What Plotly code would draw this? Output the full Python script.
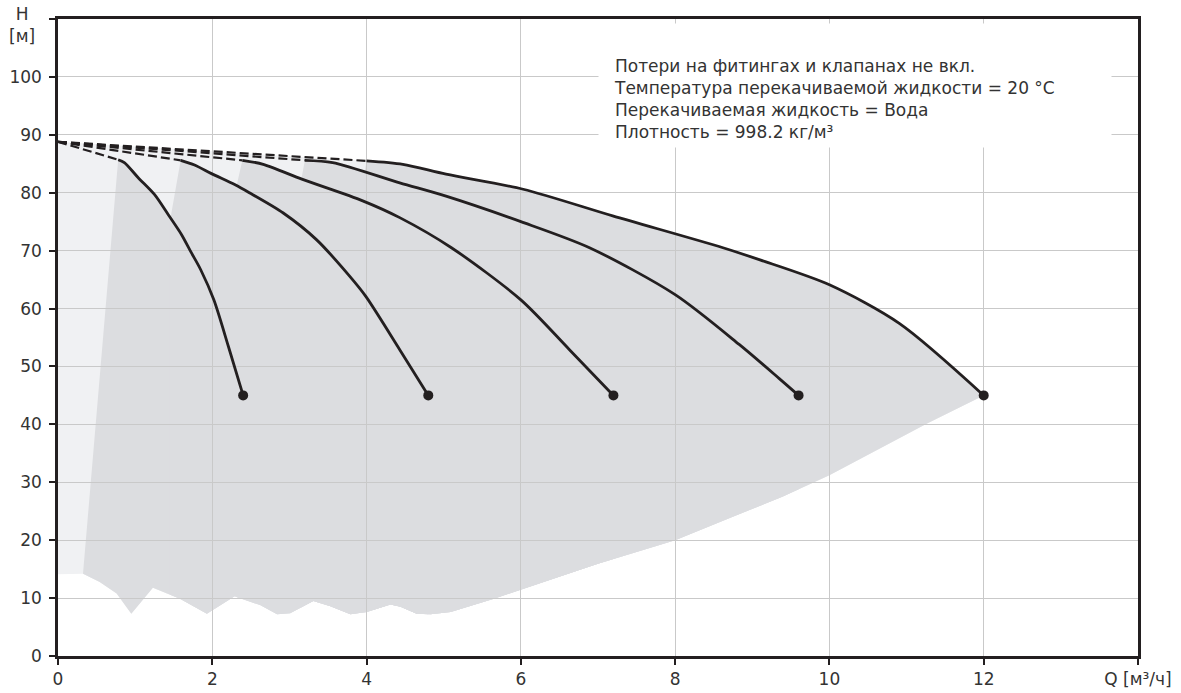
import plotly.graph_objects as go
import numpy as np

# ---------------- data ----------------
shutoff_h = 88.8  # head at Q = 0 (start of every dashed extension)

c1_q = [0.78, 0.86, 1.04, 1.25, 1.43, 1.60, 1.73, 1.85, 2.02, 2.21, 2.40]
c1_h = [85.7, 85.2, 82.6, 79.7, 76.2, 72.8, 69.6, 66.7, 61.5, 53.4, 45.0]

c2_q = [1.59, 1.77, 1.99, 2.29, 2.48, 2.92, 3.35, 3.78, 3.99, 4.43, 4.80]
c2_h = [85.6, 84.8, 83.3, 81.4, 80.0, 76.5, 71.9, 65.6, 62.1, 52.9, 45.0]

c3_q = [2.39, 2.66, 3.17, 3.95, 4.43, 5.10, 6.00, 6.63, 7.20]
c3_h = [85.6, 84.9, 82.3, 78.6, 75.7, 70.5, 61.5, 52.9, 45.0]

c4_q = [3.20, 3.56, 4.43, 5.03, 6.00, 6.89, 8.00, 8.83, 9.35, 9.60]
c4_h = [85.6, 85.2, 81.7, 79.4, 75.0, 70.5, 62.4, 53.8, 47.9, 45.0]

c5_q = [4.00, 4.47, 5.03, 6.03, 7.19, 8.62, 9.10, 10.00, 10.91, 12.00]
c5_h = [85.5, 84.9, 83.2, 80.6, 76.0, 70.5, 68.4, 64.1, 57.4, 45.0]

# lower ends of the slanted min-flow edges of each shaded band
edge_bottom_q = [0.324, 1.45, 2.31, 3.15, 3.97]
edge_bottom_h = [14.2, 75.0, 80.9, 82.0, 83.1]

# lower boundary of the shaded operating range
bottom_q = [0.0, 0.324, 0.54, 0.76, 0.95, 1.23, 1.58, 1.93, 2.29, 2.62, 2.84, 3.01,
            3.31, 3.53, 3.79, 4.00, 4.31, 4.44, 4.65, 4.83, 5.09, 5.65, 7.00, 8.00,
            8.74, 9.39, 10.00, 11.26, 12.00]
bottom_h = [14.1, 14.2, 12.8, 10.8, 7.3, 11.8, 9.9, 7.3, 10.3, 8.8, 7.2, 7.4,
            9.5, 8.6, 7.2, 7.6, 8.9, 8.5, 7.3, 7.2, 7.6, 9.9, 15.95, 20.0,
            24.0, 27.5, 31.2, 40.1, 45.0]

x_tickvals = [0, 2, 4, 6, 8, 10, 12, 14]
x_ticktext = ["0", "2", "4", "6", "8", "10", "12", "Q [м³/ч]"]
y_tickvals = [0, 10, 20, 30, 40, 50, 60, 70, 80, 90, 100, 110]
y_ticktext = ["0", "10", "20", "30", "40", "50", "60", "70", "80", "90", "100", ""]

notes = [
    "Потери на фитингах и клапанах не вкл.",
    "Температура перекачиваемой жидкости = 20 °C",
    "Перекачиваемая жидкость = Вода",
    "Плотность = 998.2 кг/м³",
]

# ---------------- styles ----------------
FONT = "Verdana, DejaVu Sans, sans-serif"
DARK = "#231f20"
TXT = "#333333"
LIGHT_FILL = "#f0f1f3"
MID_FILL = "#dcdde0"
GRID = "#c9c9c9"

curves = [(c1_q, c1_h), (c2_q, c2_h), (c3_q, c3_h), (c4_q, c4_h), (c5_q, c5_h)]


def svg_path(qs, hs):
    pts = [f"{q},{h}" for q, h in zip(qs, hs)]
    return "M " + " L ".join(pts) + " Z"


shapes = []

# light area: under the envelope (top dashed line + outer curve), above the lower boundary
lq = [bottom_q[0], 0.0] + c5_q + bottom_q[::-1]
lh = [bottom_h[0], shutoff_h] + c5_h + bottom_h[::-1]
shapes.append(dict(type="path", path=svg_path(lq, lh), xref="x", yref="y",
                   fillcolor=LIGHT_FILL, line=dict(width=0), layer="below"))

# medium areas: for each curve, right of its slanted edge, under the curve
for (cq, ch), eq, eh in zip(curves, edge_bottom_q, edge_bottom_h):
    end_q = cq[-1]
    inner = [(q, h) for q, h in zip(bottom_q, bottom_h) if eq < q < end_q]
    pq = [eq, eq] + cq + [end_q] + [q for q, _ in inner[::-1]]
    ph = [float(np.interp(eq, bottom_q, bottom_h)), eh] + ch + \
         [float(np.interp(end_q, bottom_q, bottom_h))] + [h for _, h in inner[::-1]]
    shapes.append(dict(type="path", path=svg_path(pq, ph), xref="x", yref="y",
                       fillcolor=MID_FILL, line=dict(width=0), layer="below"))

fig = go.Figure()

for cq, ch in curves:
    # dashed extension from shut-off head to the start of the solid curve
    fig.add_trace(go.Scatter(x=[0.0, cq[0]], y=[shutoff_h, ch[0]], mode="lines",
                             line=dict(color=DARK, width=2.2, dash="9px,4px"),
                             hoverinfo="skip", showlegend=False))
    fig.add_trace(go.Scatter(x=cq, y=ch, mode="lines",
                             line=dict(color=DARK, width=2.8, shape="spline", smoothing=0.8),
                             showlegend=False))
    fig.add_trace(go.Scatter(x=[cq[-1]], y=[ch[-1]], mode="markers",
                             marker=dict(color=DARK, size=10), showlegend=False))

axis_common = dict(
    showgrid=True, gridcolor=GRID, gridwidth=1,
    showline=True, linecolor=DARK, linewidth=2.5, mirror=True,
    ticks="outside", ticklen=6, tickwidth=1.5, tickcolor=DARK,
    tickfont=dict(family=FONT, size=17, color=TXT),
    zeroline=False, fixedrange=True, automargin=False,
)

fig.update_layout(
    width=1181, height=693,
    margin=dict(l=58, r=43, t=19, b=37),
    plot_bgcolor="white", paper_bgcolor="white",
    shapes=shapes,
    xaxis=dict(range=[0, 14], tickvals=x_tickvals, ticktext=x_ticktext, **axis_common),
    yaxis=dict(range=[0, 110], tickvals=y_tickvals, ticktext=y_ticktext,
               ticklabelstandoff=4, **axis_common),
    font=dict(family=FONT, color=TXT),
)

# white box behind the notes
fig.add_annotation(xref="paper", yref="paper", x=0.5, y=0.9937, xanchor="left", yanchor="top",
                   text=" ", showarrow=False, width=512, height=123, borderpad=0,
                   bgcolor="white")
fig.add_annotation(xref="paper", yref="paper", x=0.5128, y=0.945, xanchor="left", yanchor="top",
                   text="<br>".join(notes), align="left", showarrow=False,
                   font=dict(family=FONT, size=17, color=TXT))
# axis title H [м]
fig.add_annotation(xref="paper", yref="paper", x=-0.0331, y=0.99, xanchor="center", yanchor="middle",
                   text="H<br>[м]", align="center", showarrow=False,
                   font=dict(family=FONT, size=17, color=TXT))

fig.write_html("out.html",
               config={"displayModeBar": False},
               post_script="document.body.style.margin='0px';"
                           "document.body.style.overflow='hidden';")
